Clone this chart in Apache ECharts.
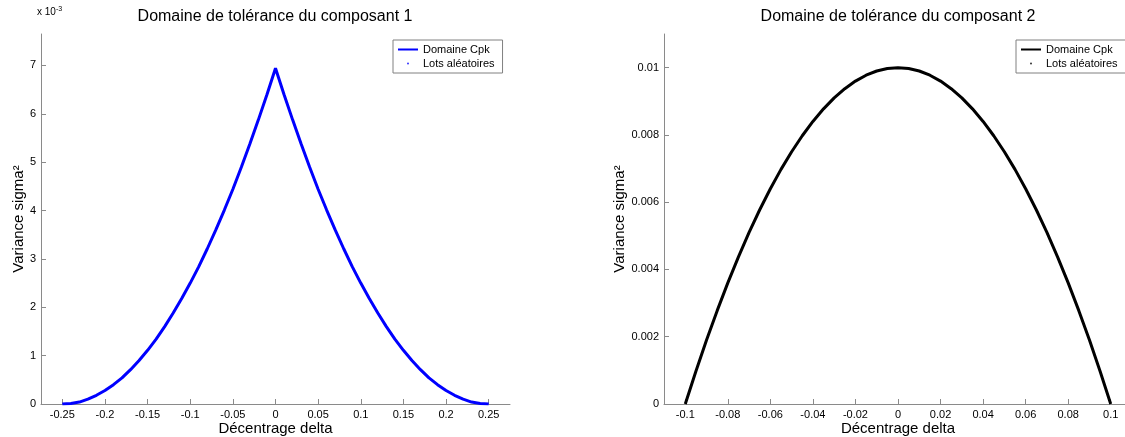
<!DOCTYPE html>
<html>
<head>
<meta charset="utf-8">
<script src="https://cdn.jsdelivr.net/npm/echarts@6/dist/echarts.min.js"></script>
<style>
  html, body { margin: 0; padding: 0; background: #fff; }
  #chart { width: 1125px; height: 437px; }
</style>
</head>
<body>
<div id="chart"></div>
<script>
// Composant 1 : domaine Cpk (delta, sigma²)
const delta1 = [
  -0.25, -0.24, -0.23, -0.22, -0.21, -0.2, -0.19, -0.18, -0.17, -0.16,
  -0.15, -0.14, -0.13, -0.12, -0.11, -0.1, -0.09, -0.08, -0.07, -0.06,
  -0.05, -0.04, -0.03, -0.02, -0.01, 0,
  0.01, 0.02, 0.03, 0.04, 0.05, 0.06, 0.07, 0.08, 0.09, 0.1,
  0.11, 0.12, 0.13, 0.14, 0.15, 0.16, 0.17, 0.18, 0.19, 0.2,
  0.21, 0.22, 0.23, 0.24, 0.25
]
const variance1 = [
  0, 0.00001, 0.00004, 0.0001, 0.00018, 0.00028, 0.0004, 0.00054, 0.00071, 0.0009,
  0.00111, 0.00134, 0.0016, 0.00188, 0.00218, 0.0025, 0.00284, 0.00321, 0.0036, 0.00401,
  0.00444, 0.0049, 0.00538, 0.00588, 0.0064, 0.00694,
  0.0064, 0.00588, 0.00538, 0.0049, 0.00444, 0.00401, 0.0036, 0.00321, 0.00284, 0.0025,
  0.00218, 0.00188, 0.0016, 0.00134, 0.00111, 0.0009, 0.00071, 0.00054, 0.0004, 0.00028,
  0.00018, 0.0001, 0.00004, 0.00001, 0
]

// Composant 2 : domaine Cpk (delta, sigma²)
const delta2 = [
  -0.1, -0.095, -0.09, -0.085, -0.08, -0.075, -0.07, -0.065, -0.06, -0.055,
  -0.05, -0.045, -0.04, -0.035, -0.03, -0.025, -0.02, -0.015, -0.01, -0.005, 0,
  0.005, 0.01, 0.015, 0.02, 0.025, 0.03, 0.035, 0.04, 0.045, 0.05,
  0.055, 0.06, 0.065, 0.07, 0.075, 0.08, 0.085, 0.09, 0.095, 0.1
]
const variance2 = [
  0, 0.000975, 0.0019, 0.002775, 0.0036, 0.004375, 0.0051, 0.005775, 0.0064, 0.006975,
  0.0075, 0.007975, 0.0084, 0.008775, 0.0091, 0.009375, 0.0096, 0.009775, 0.0099, 0.009975, 0.01,
  0.009975, 0.0099, 0.009775, 0.0096, 0.009375, 0.0091, 0.008775, 0.0084, 0.007975, 0.0075,
  0.006975, 0.0064, 0.005775, 0.0051, 0.004375, 0.0036, 0.002775, 0.0019, 0.000975, 0
]

// Lots aléatoires : aucun point visible sur l'image
const lots1 = []
const lots2 = []

// Graduations
const xTicks1 = [-0.25, -0.2, -0.15, -0.1, -0.05, 0, 0.05, 0.1, 0.15, 0.2, 0.25]
const yTicks1 = [0, 0.001, 0.002, 0.003, 0.004, 0.005, 0.006, 0.007]
const xTicks2 = [-0.1, -0.08, -0.06, -0.04, -0.02, 0, 0.02, 0.04, 0.06, 0.08, 0.1]
const yTicks2 = [0, 0.002, 0.004, 0.006, 0.008, 0.01]

const titles = ["Domaine de tolérance du composant 1", "Domaine de tolérance du composant 2"]

const FONT = "Liberation Sans, Arial, sans-serif"
const AXIS_GREY = "#8a8a8a"

const zip = (xs, ys) => xs.map((x, i) => [x, ys[i]])
const fmt = (v) => String(+v.toFixed(4))

function valueAxis(gridIndex, min, max, ticks, formatter, extra) {
  return Object.assign({
    type: "value",
    gridIndex: gridIndex,
    min: min,
    max: max,
    axisLine: { show: true, onZero: false, lineStyle: { color: AXIS_GREY, width: 1 } },
    axisTick: { show: true, inside: true, length: 5, customValues: ticks, lineStyle: { color: AXIS_GREY } },
    axisLabel: { customValues: ticks, formatter: formatter, color: "#000", fontSize: 11, fontFamily: FONT, margin: 5 },
    splitLine: { show: false },
    nameLocation: "middle",
    nameMoveOverlap: false,
    nameTextStyle: { color: "#000", fontSize: 15, fontFamily: FONT },
  }, extra)
}

function legendBox(left, names) {
  return {
    orient: "vertical", left: left, top: 40,
    data: [{ name: names[0], icon: "rect" }, { name: names[1], icon: "circle" }],
    formatter: (n) => n.trim(),
    itemWidth: 20, itemHeight: 2, itemGap: 3,
    padding: [4, 8, 4, 5],
    borderColor: "#808080", borderWidth: 1, borderRadius: 0, backgroundColor: "#fff",
    textStyle: { fontSize: 11, fontFamily: FONT, color: "#000" },
    selectedMode: false,
  }
}

const chart = echarts.init(document.getElementById("chart"), null, { renderer: "canvas" })

const option = {
  animation: false,
  backgroundColor: "#fff",
  title: [
    { text: titles[0], left: 275, top: 9, textAlign: "center", padding: 0,
      textStyle: { fontSize: 16, fontWeight: "normal", color: "#000", fontFamily: FONT } },
    { text: titles[1], left: 898, top: 9, textAlign: "center", padding: 0,
      textStyle: { fontSize: 16, fontWeight: "normal", color: "#000", fontFamily: FONT } },
  ],
  grid: [
    { left: 41, top: 34, width: 469, height: 370, outerBoundsMode: "none", containLabel: false },
    { left: 664, top: 34, width: 468, height: 370, outerBoundsMode: "none", containLabel: false },
  ],
  legend: [
    legendBox(393, ["Domaine Cpk", "Lots aléatoires"]),
    legendBox(1016, ["Domaine Cpk ", "Lots aléatoires "]),
  ],
  xAxis: [
    valueAxis(0, -0.275, 0.275, xTicks1, fmt, { name: "Décentrage delta", nameGap: 17 }),
    valueAxis(1, -0.11, 0.11, xTicks2, fmt, { name: "Décentrage delta", nameGap: 17 }),
  ],
  yAxis: [
    valueAxis(0, 0, 0.00765, yTicks1, (v) => String(Math.round(v * 1000)), { name: "Variance sigma²", nameGap: 15 }),
    valueAxis(1, 0, 0.011, yTicks2, fmt, { name: "Variance sigma²", nameGap: 37 }),
  ],
  graphic: [
    {
      type: "text", left: 37, top: 6,
      style: {
        text: "x 10{sup|-3}",
        fontSize: 10, fontFamily: FONT, fill: "#000",
        rich: { sup: { fontSize: 7, verticalAlign: "top", padding: [0, 0, 6, 0] } },
      },
    },
  ],
  series: [
    {
      name: "Domaine Cpk", type: "line", xAxisIndex: 0, yAxisIndex: 0,
      data: zip(delta1, variance1), showSymbol: false, symbol: "none",
      lineStyle: { color: "#0000ff", width: 3 }, itemStyle: { color: "#0000ff" },
    },
    {
      name: "Lots aléatoires", type: "scatter", xAxisIndex: 0, yAxisIndex: 0,
      data: lots1, symbolSize: 3, itemStyle: { color: "#0000ff" },
    },
    {
      name: "Domaine Cpk ", type: "line", xAxisIndex: 1, yAxisIndex: 1,
      data: zip(delta2, variance2), showSymbol: false, symbol: "none",
      lineStyle: { color: "#000", width: 3 }, itemStyle: { color: "#000" },
    },
    {
      name: "Lots aléatoires ", type: "scatter", xAxisIndex: 1, yAxisIndex: 1,
      data: lots2, symbolSize: 3, itemStyle: { color: "#000" },
    },
  ],
}

chart.setOption(option)
window.addEventListener("resize", () => chart.resize())
</script>
</body>
</html>
